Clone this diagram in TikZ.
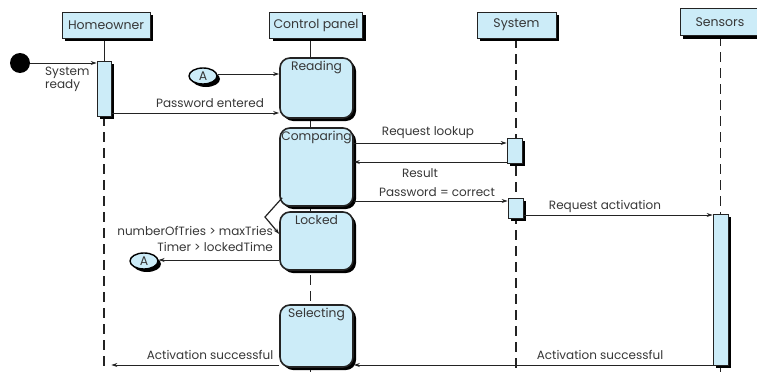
\documentclass[tikz,border=0pt]{standalone}
\usepackage{fontspec}
\setmainfont{Poppins}
\usetikzlibrary{arrows.meta,shadows,shapes.geometric}
\definecolor{lblue}{RGB}{204,236,248}
\definecolor{txt}{RGB}{55,55,55}
\definecolor{ln}{RGB}{35,35,35}
\tikzset{
  shad/.style={drop shadow={shadow xshift=3pt,shadow yshift=-3pt,opacity=1,fill=black}},
  hdr/.style={draw=ln,fill=lblue,line width=0.8pt,minimum height=26pt,inner sep=2pt,text=txt,font=\fontsize{12.5}{14}\selectfont,shad},
  actbar/.style={draw=ln,fill=lblue,line width=0.8pt,minimum width=14pt,inner sep=0pt,shad},
  statebox/.style={draw=ln,fill=lblue,rounded corners=10pt,line width=1.6pt,minimum width=73pt,inner sep=0pt,shad},
  stlabel/.style={anchor=north,yshift=-3pt,text=txt,inner sep=1pt,font=\fontsize{12.3}{14}\selectfont},
  conn/.style={draw=black,fill=lblue,ellipse,line width=1.4pt,minimum width=28pt,minimum height=16pt,inner sep=0pt,text=txt,font=\fontsize{12.5}{13}\selectfont,shad},
  msg/.style={-{Stealth[length=6pt,width=4pt]},line width=0.8pt,draw=ln},
  lifeline/.style={dash pattern=on 10pt off 6pt,line width=1.6pt,draw=ln},
  thinlife/.style={dash pattern=on 10pt off 6pt,line width=0.8pt,draw=ln},
  solidlife/.style={line width=1pt,draw=ln},
  lbl/.style={text=txt,inner sep=0pt,font=\fontsize{12}{13}\selectfont},
}
\begin{document}
\begin{tikzpicture}[x=1pt,y=-1pt]
\useasboundingbox (0,0) rectangle (757,372);
\fill[white] (0,0) rectangle (757,372);

% lifeline coordinates
\coordinate (hbot) at (104,372);
\coordinate (cbot) at (310,372);
\coordinate (sbot) at (516,372);
\coordinate (ebot) at (720,372);
\coordinate (htop) at (104,38);
\coordinate (ctop) at (310,38);
\coordinate (stop) at (516,38);
\coordinate (etop) at (720,36);

% lifelines (behind)
\draw[solidlife] (htop) -- (104,61);
\draw[lifeline] (104,116) -- (hbot);
\draw[solidlife] (ctop) -- (310,128);
\draw[solidlife] (310,200) -- (310,215);
\draw[thinlife] (310,275) -- (310,305);
\draw[solidlife] (310,360) -- (cbot);
\draw[lifeline] (stop) -- (sbot);
\draw[thinlife] (etop) -- (720,214);
\draw[thinlife] (720,365) -- (ebot);

% headers
\node[hdr,minimum width=88pt] (ho) at (106,25) {Homeowner};
\node[hdr,minimum width=93pt] (cp) at (316,25) {Control panel};
\node[hdr,minimum width=79pt] (sy) at (516.5,25) {System};
\node[hdr,minimum width=80pt,minimum height=27pt] (se) at (720,22) {Sensors};

% activation bars
\node[actbar,minimum height=55pt] (hbar) at (104,88.5) {};
\node[actbar,minimum width=15pt,minimum height=25pt] (sbar1) at (514.5,150.5) {};
\node[actbar,minimum width=15pt,minimum height=20pt] (sbar2) at (515.5,208) {};
\node[actbar,minimum width=15pt,minimum height=151pt] (sensbar) at (720.5,289.5) {};

% states
\node[statebox,minimum height=60pt,label={[stlabel]north:Reading}] (reading) at (316.5,88) {};
\node[statebox,minimum height=78pt,label={[stlabel]north:Comparing}] (comparing) at (316.5,167) {};
\node[statebox,minimum height=58pt,label={[stlabel]north:Locked}] (locked) at (316.5,241) {};
\node[statebox,minimum height=62pt,label={[stlabel]north:Selecting}] (selecting) at (316.5,336) {};

% start and connectors
\node[circle,fill=black,minimum size=20pt,inner sep=0pt] (start) at (20,63) {};
\node[conn] (a1) at (203,76) {A};
\node[conn] (a2) at (144,261) {A};

% messages
\draw[msg] (start.east) -- (start.east -| hbar.west);
\node[lbl,align=left,anchor=north west,font=\fontsize{12}{11.5}\selectfont] (sr) at (45,67) {System\\ready};

\draw[msg] (hbar.east |- 0,113) -- (reading.west |- 0,113);
\node[lbl] (l1) at (210,103) {Password entered};

\draw[msg] (a1.east |- 0,74) -- (reading.west |- 0,74);

\draw[msg] (comparing.east |- 0,143) -- (sbar1.west |- 0,143);
\node[lbl] (l2) at (428,133) {Request lookup};

\draw[msg] (sbar1.west |- 0,162) -- (comparing.east |- 0,162);
\node[lbl] (l3) at (420,173) {Result};

\draw[msg] (comparing.east |- 0,201) -- (sbar2.west |- 0,201);
\node[lbl] (l4) at (437,192) {Password = correct};

\draw[msg] (sbar2.east |- 0,215) -- (sensbar.west |- 0,215);
\node[lbl] (l5) at (605,206) {Request activation};

\draw[msg,line width=1.2pt] ([xshift=3pt,yshift=9pt]comparing.south west) -- (265,217) -- ([yshift=7pt]locked.west);
\node[lbl,anchor=east] (l6) at (273,231) {numberOfTries > maxTries};
\node[lbl,anchor=east] (l7) at (273,247) {Timer > lockedTime};

\draw[msg] (locked.west |- 0,260) -- (a2.east |- 0,260);

\draw[msg] (sensbar.west |- 0,365) -- (selecting.east |- 0,365);
\node[lbl] (l8) at (600,355) {Activation successful};

\draw[msg] (selecting.west |- 0,365) -- (hbar.east |- 0,365);
\node[lbl] (l9) at (210,355) {Activation successful};
\end{tikzpicture}
\end{document}
